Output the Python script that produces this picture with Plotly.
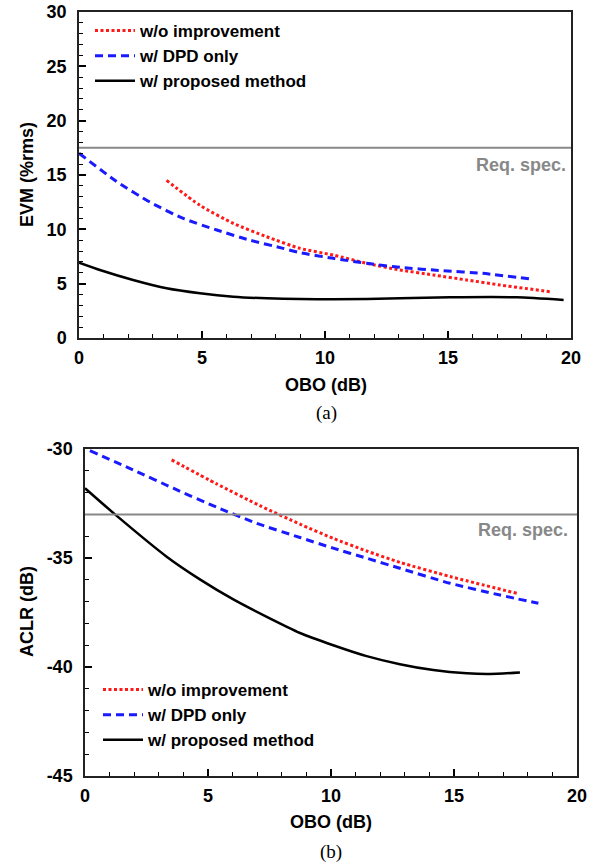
import plotly.graph_objects as go

W, H = 599, 867

# ---------------- data (a) EVM ----------------
a_wo_x = [3.56, 4.92, 6.27, 7.63, 8.98, 10.34, 11.7, 13.05, 14.4, 15.76, 17.1, 19.15]
a_wo_y = [14.5, 12.2, 10.55, 9.32, 8.25, 7.63, 6.87, 6.26, 5.8, 5.34, 4.88, 4.26]
a_dpd_x = [0.0, 1.53, 2.89, 4.24, 5.6, 6.95, 8.3, 8.98, 10.34, 11.7, 13.05, 14.8, 16.4, 18.47]
a_dpd_y = [17.0, 14.4, 12.5, 11.0, 9.94, 9.0, 8.25, 7.85, 7.33, 6.87, 6.5, 6.19, 5.95, 5.4]
a_prop_x = [0.0, 0.85, 2.2, 3.56, 4.92, 6.27, 7.63, 8.98, 10.34, 13.05, 15.08, 17.8, 19.7]
a_prop_y = [6.93, 6.26, 5.34, 4.57, 4.11, 3.8, 3.65, 3.59, 3.56, 3.65, 3.74, 3.74, 3.5]
a_spec = 17.5

# ---------------- data (b) ACLR ----------------
b_wo_x = [3.52, 5.35, 7.11, 8.74, 10.09, 11.45, 12.8, 14.84, 17.55]
b_wo_y = [-30.5, -31.6, -32.6, -33.45, -34.1, -34.68, -35.2, -35.85, -36.62]
b_dpd_x = [0.2, 1.96, 3.59, 5.35, 6.98, 8.74, 10.09, 11.45, 12.8, 14.84, 16.87, 18.43]
b_dpd_y = [-30.08, -30.96, -31.8, -32.67, -33.41, -34.06, -34.55, -35.01, -35.47, -36.16, -36.7, -37.08]
b_prop_x = [0.0, 1.22, 3.32, 4.67, 6.03, 7.39, 8.74, 10.09, 11.45, 12.8, 14.16, 15.52, 16.46, 17.68]
b_prop_y = [-31.8, -33.0, -34.94, -35.98, -36.9, -37.7, -38.44, -39.0, -39.5, -39.87, -40.14, -40.29, -40.32, -40.25]
b_spec = -33.0

names = ["w/o improvement", "w/ DPD only", "w/ proposed method"]
xticks = [0, 5, 10, 15, 20]
a_yticks = [0, 5, 10, 15, 20, 25, 30]
b_yticks = [-45, -40, -35, -30]

FONT = "Liberation Sans, Arial, sans-serif"
SERIF = "Liberation Serif, Times New Roman, serif"
RED, BLUE, BLACK, GRAY = "#ff1a1a", "#1a1aff", "#000000", "#888888"
FS = 18


def px_x(p):
    return p / W


def px_y(p):
    return 1 - p / H


def bold(s):
    return "<b>" + s + "</b>"


fig = go.Figure()

styles = [
    (RED, "3px,2.5px", 3),
    (BLUE, "8px,5px", 3),
    (BLACK, "solid", 2.5),
]

for (xs, ys), name, (c, d, w) in zip(
    [(a_wo_x, a_wo_y), (a_dpd_x, a_dpd_y), (a_prop_x, a_prop_y)], names, styles
):
    fig.add_trace(go.Scatter(x=xs, y=ys, name=bold(name), mode="lines",
                             line=dict(color=c, dash=d, width=w, shape="spline", smoothing=0.6),
                             xaxis="x", yaxis="y", legend="legend"))

for (xs, ys), name, (c, d, w) in zip(
    [(b_wo_x, b_wo_y), (b_dpd_x, b_dpd_y), (b_prop_x, b_prop_y)], names, styles
):
    fig.add_trace(go.Scatter(x=xs, y=ys, name=bold(name), mode="lines",
                             line=dict(color=c, dash=d, width=w, shape="spline", smoothing=0.6),
                             xaxis="x2", yaxis="y2", legend="legend2"))

tickfont = dict(family=FONT, size=FS, color="black", weight="bold")


def xaxis(domain, anchor):
    return dict(domain=domain, anchor=anchor, range=[0, 20], tickvals=xticks,
                ticktext=[bold(str(v)) for v in xticks], automargin=False,
                ticks="inside", ticklen=7, tickwidth=1.5, tickcolor="black",
                minor=dict(dtick=1, tick0=0, ticks="inside", ticklen=4, tickwidth=1.2, tickcolor="black"),
                showline=True, linecolor="#222222", linewidth=1.5, mirror=True,
                showgrid=False, zeroline=False, tickfont=tickfont, ticklabelstandoff=3)


def yaxis(domain, anchor, rng, tv):
    return dict(domain=domain, anchor=anchor, range=rng, tickvals=tv,
                ticktext=[bold(str(v)) for v in tv], automargin=False,
                ticks="inside", ticklen=7, tickwidth=1.5, tickcolor="black",
                minor=dict(dtick=1, tick0=0, ticks="inside", ticklen=4, tickwidth=1.2, tickcolor="black"),
                showline=True, linecolor="#222222", linewidth=1.5, mirror=True,
                showgrid=False, zeroline=False, tickfont=tickfont, ticklabelstandoff=7)


legfont = dict(family=FONT, size=17, color="black", weight="bold")

fig.update_layout(
    width=W, height=H, margin=dict(l=0, r=0, t=0, b=0, autoexpand=False),
    paper_bgcolor="white", plot_bgcolor="white",
    xaxis=xaxis([px_x(79), px_x(571)], "y"),
    yaxis=yaxis([px_y(338), px_y(12)], "x", [0, 30], a_yticks),
    xaxis2=xaxis([px_x(85), px_x(577)], "y2"),
    yaxis2=yaxis([px_y(776), px_y(449)], "x2", [-45, -30], b_yticks),
    legend=dict(x=px_x(90), y=px_y(13), xanchor="left", yanchor="top",
                bgcolor="rgba(0,0,0,0)", font=legfont, tracegroupgap=0, itemwidth=40),
    legend2=dict(x=px_x(98), y=px_y(672), xanchor="left", yanchor="top",
                 bgcolor="rgba(0,0,0,0)", font=legfont, tracegroupgap=0, itemwidth=40),
    showlegend=True,
)

# requirement spec lines
fig.add_shape(type="line", xref="x domain", yref="y", x0=0, x1=1, y0=a_spec, y1=a_spec,
              line=dict(color=GRAY, width=2))
fig.add_shape(type="line", xref="x2 domain", yref="y2", x0=0, x1=1, y0=b_spec, y1=b_spec,
              line=dict(color=GRAY, width=2))

bf = dict(family=FONT, size=FS, color="black", weight="bold")
gf = dict(family=FONT, size=FS, color=GRAY, weight="bold")
annos = [
    dict(text=bold("Req. spec."), x=px_x(568), y=px_y(165), xanchor="right", yanchor="middle", font=gf),
    dict(text=bold("Req. spec."), x=px_x(570), y=px_y(530), xanchor="right", yanchor="middle", font=gf),
    dict(text=bold("EVM (%rms)"), x=px_x(27), y=px_y(175), xanchor="center", yanchor="middle",
         textangle=-90, font=bf),
    dict(text=bold("ACLR (dB)"), x=px_x(27), y=px_y(612), xanchor="center", yanchor="middle",
         textangle=-90, font=bf),
    dict(text=bold("OBO (dB)"), x=px_x(326), y=px_y(385), xanchor="center", yanchor="middle", font=bf),
    dict(text=bold("OBO (dB)"), x=px_x(331), y=px_y(822), xanchor="center", yanchor="middle", font=bf),
    dict(text="(a)", x=px_x(326), y=px_y(413), xanchor="center", yanchor="middle",
         font=dict(family=SERIF, size=19, color="black")),
    dict(text="(b)", x=px_x(331), y=px_y(852), xanchor="center", yanchor="middle",
         font=dict(family=SERIF, size=19, color="black")),
]
for a in annos:
    fig.add_annotation(xref="paper", yref="paper", showarrow=False, **a)

fig.write_html(
    "out.html",
    config={"displayModeBar": False},
    post_script="document.body.style.margin='0px';document.body.style.overflow='hidden';",
)
